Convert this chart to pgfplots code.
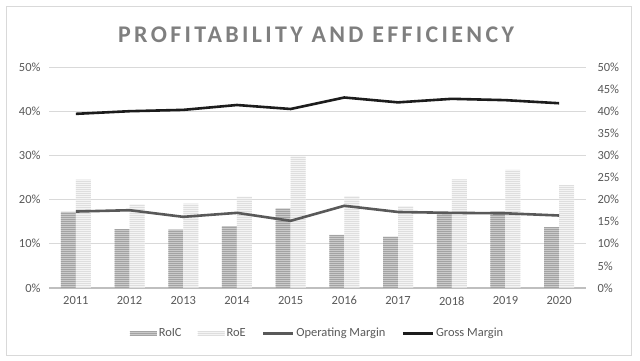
\documentclass[border=0pt]{standalone}
\usepackage{fontspec}
\setmainfont{Carlito}
\usepackage{pgfplots}
\pgfplotsset{compat=1.18}
\usetikzlibrary{patterns.meta}
\definecolor{txt}{HTML}{595959}
\definecolor{gridc}{HTML}{D9D9D9}
\definecolor{axisc}{HTML}{BFBFBF}
\definecolor{roicA}{HTML}{CACACA}
\definecolor{roicB}{HTML}{A3A3A3}
\definecolor{roeA}{HTML}{F4F4F4}
\definecolor{roeB}{HTML}{DEDEDE}
\definecolor{opm}{HTML}{595959}
\definecolor{gm}{HTML}{1C1C1C}
\definecolor{titlec}{HTML}{7F7F7F}
\pgfplotsset{
  barlegend/.style={legend image code/.code={\path[##1] (0bp,-2.5bp) rectangle (27bp,2.5bp);}},
  linelegend/.style={legend image code/.code={\draw[##1] (0bp,0bp) -- (30bp,0bp);}},
}
\begin{document}
\begin{tikzpicture}
\useasboundingbox (0,0) rectangle (640bp,361bp);
\fill[white] (0,0) rectangle (640bp,361bp);
\draw[gridc, line width=0.8bp] (6bp,6bp) rectangle (631bp,355bp);
\node[font=\fontsize{24}{24}\selectfont\bfseries\addfontfeature{LetterSpace=14}, text=titlec] at (316bp,326.5bp) {PROFITABILITY AND EFFICIENCY};
\begin{axis}[
  at={(49bp,73bp)}, anchor=south west,
  scale only axis, width=537bp, height=221bp,
  xmin=-0.5, xmax=9.5, ymin=0, ymax=50,
  xtick={0,...,9},
  xticklabels={2011,2012,2013,2014,2015,2016,2017,2018,2019,2020},
  ytick={0,10,...,50},
  yticklabel={\pgfmathprintnumber[assume math mode=true]{\tick}\%},
  ymajorgrids, grid style={gridc, line width=0.8bp},
  axis x line*=bottom, axis y line*=left,
  y axis line style={draw=none},
  x axis line style={axisc, line width=1.5bp, -},
  major tick length=0pt, tick style={draw=none},
  tick label style={font=\fontsize{12.5}{12.5}\selectfont, text=txt},
  yticklabel style={xshift=-5bp},
  xticklabel style={yshift=-5bp},
  legend style={at={(0.5,-0.205)}, anchor=center, draw=none, fill=none,
    font=\fontsize{12.5}{12.5}\selectfont, text=txt, legend columns=4,
    /tikz/every even column/.append style={column sep=14bp},
    inner sep=0pt},
  legend cell align=left,
]
\addplot[ybar, bar width=15bp, bar shift=-7.5bp, fill=roicA, draw=none,
  postaction={pattern={Lines[angle=0,distance=2bp,line width=0.9bp]}, pattern color=roicB},
  barlegend]
  coordinates {(0,17.2) (1,13.3) (2,13.2) (3,14.0) (4,18.0) (5,12.0) (6,11.6) (7,17.0) (8,17.3) (9,13.8)};
\addlegendentry{RoIC}
\addplot[ybar, bar width=15bp, bar shift=7.5bp, fill=roeA, draw=none,
  postaction={pattern={Lines[angle=0,distance=2bp,line width=0.9bp]}, pattern color=roeB},
  barlegend]
  coordinates {(0,24.5) (1,18.9) (2,19.1) (3,20.7) (4,29.8) (5,20.8) (6,18.5) (7,24.6) (8,26.7) (9,23.3)};
\addlegendentry{RoE}
\addplot[opm, line width=2.6bp, line join=round, mark=none, linelegend]
  coordinates {(0,17.3) (1,17.6) (2,16.1) (3,17.0) (4,15.2) (5,18.6) (6,17.2) (7,17.0) (8,16.9) (9,16.4)};
\addlegendentry{Operating Margin}
\addplot[gm, line width=2.6bp, line join=round, mark=none, linelegend]
  coordinates {(0,39.4) (1,40.0) (2,40.3) (3,41.4) (4,40.5) (5,43.1) (6,42.0) (7,42.8) (8,42.5) (9,41.8)};
\addlegendentry{Gross Margin}
\end{axis}
\begin{axis}[
  at={(49bp,73bp)}, anchor=south west,
  scale only axis, width=537bp, height=221bp,
  xmin=-0.5, xmax=9.5, ymin=0, ymax=50,
  hide x axis, axis y line*=right, y axis line style={draw=none},
  ytick={0,5,...,50},
  yticklabel={\pgfmathprintnumber[assume math mode=true]{\tick}\%},
  major tick length=0pt, tick style={draw=none},
  tick label style={font=\fontsize{12.5}{12.5}\selectfont, text=txt},
  yticklabel style={xshift=8bp},
]
\addplot[draw=none] coordinates {(0,0) (9,50)};
\end{axis}
\end{tikzpicture}
\end{document}
